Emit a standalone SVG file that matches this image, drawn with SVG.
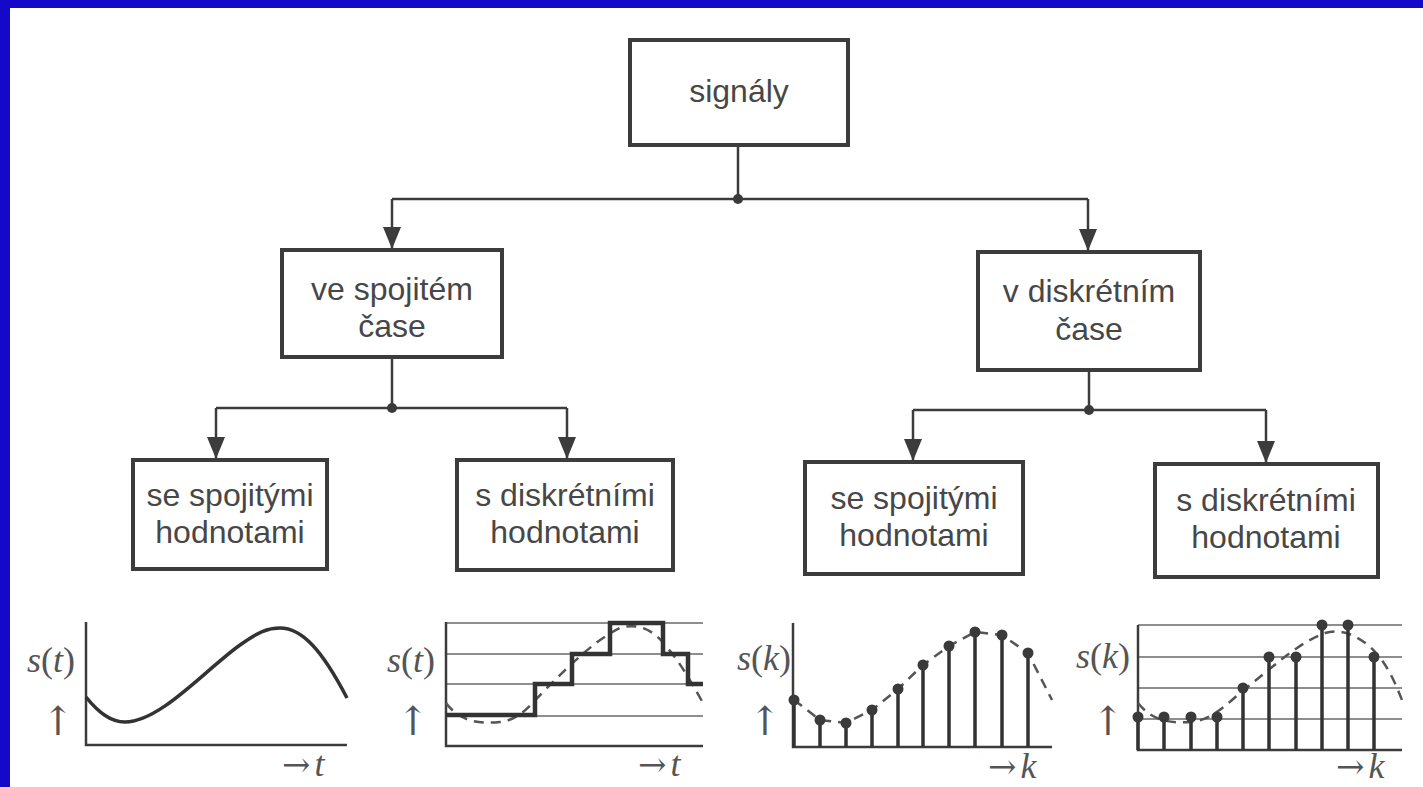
<svg xmlns="http://www.w3.org/2000/svg" width="1423" height="787" viewBox="0 0 1423 787">
<style>
.box{fill:#ffffff;stroke:#3c3c3c;stroke-width:4}
.lbl{font-family:"Liberation Sans",Arial,sans-serif;font-size:32px;fill:#474747;text-anchor:middle}
.con{fill:none;stroke:#3c3c3c;stroke-width:2.5}
.ax{fill:none;stroke:#3c3c3c;stroke-width:2.5}
.grid{fill:none;stroke:#6a6a6a;stroke-width:1.6}
.sig{fill:none;stroke:#333;stroke-width:3.5}
.stair{fill:none;stroke:#333;stroke-width:4.5}
.dash{fill:none;stroke:#555;stroke-width:2.5;stroke-dasharray:10 7}
.stem{stroke:#333;stroke-width:3.5}
.dot{fill:#3a3a3a}
.math{font-family:"Liberation Serif","Times New Roman",serif;font-size:36px;fill:#555}
.up{font-family:"DejaVu Serif","DejaVu Sans",serif;font-size:40px;fill:#555;text-anchor:middle}
.rt{font-family:"DejaVu Serif","DejaVu Sans",serif;font-size:34px;fill:#555}
.var{font-family:"Liberation Serif","Times New Roman",serif;font-style:italic;font-size:36px}
</style>
<defs>
<marker id="ah" markerWidth="18" markerHeight="24" refX="9" refY="22" orient="0" markerUnits="userSpaceOnUse">
<path d="M0,0 L18,0 L9,22 Z" fill="#3c3c3c"/>
</marker>
</defs>
<rect x="0" y="0" width="1423" height="787" fill="#ffffff"/>
<rect x="0" y="0" width="1423" height="8" fill="#1409c8"/>
<rect x="0" y="0" width="10" height="787" fill="#1409c8"/>

<g id="connectors">
<path class="con" d="M738,145 V199"/>
<path class="con" d="M392,199 H1088"/>
<path class="con" d="M392,199 V249" marker-end="url(#ah)"/>
<path class="con" d="M1088,199 V251" marker-end="url(#ah)"/>
<circle class="dot" cx="738" cy="199" r="5"/>
<path class="con" d="M392,357 V408"/>
<path class="con" d="M216,408 H567"/>
<path class="con" d="M216,408 V459" marker-end="url(#ah)"/>
<path class="con" d="M567,408 V459" marker-end="url(#ah)"/>
<circle class="dot" cx="392" cy="408" r="5"/>
<path class="con" d="M1089,370 V410"/>
<path class="con" d="M913,410 H1266"/>
<path class="con" d="M913,410 V461" marker-end="url(#ah)"/>
<path class="con" d="M1266,410 V463" marker-end="url(#ah)"/>
<circle class="dot" cx="1089" cy="410" r="5"/>
</g>

<g id="signaly">
<rect class="box" x="630" y="40" width="218" height="105"/>
<text class="lbl" x="739" y="102">signály</text>
</g>
<g id="spojity-cas">
<rect class="box" x="282" y="250" width="220" height="107"/>
<text class="lbl" x="392" y="300">ve spojitém</text>
<text class="lbl" x="392" y="337">čase</text>
</g>
<g id="diskretni-cas">
<rect class="box" x="978" y="252" width="222" height="118"/>
<text class="lbl" x="1089" y="302">v diskrétním</text>
<text class="lbl" x="1089" y="340">čase</text>
</g>
<g id="sc-sh">
<rect class="box" x="133" y="460" width="194" height="109"/>
<text class="lbl" x="230" y="506">se spojitými</text>
<text class="lbl" x="230" y="543">hodnotami</text>
</g>
<g id="sc-dh">
<rect class="box" x="457" y="460" width="216" height="110"/>
<text class="lbl" x="565" y="506">s diskrétními</text>
<text class="lbl" x="565" y="543">hodnotami</text>
</g>
<g id="dc-sh">
<rect class="box" x="805" y="462" width="218" height="112"/>
<text class="lbl" x="914" y="509">se spojitými</text>
<text class="lbl" x="914" y="546">hodnotami</text>
</g>
<g id="dc-dh">
<rect class="box" x="1155" y="464" width="223" height="113"/>
<text class="lbl" x="1266" y="511">s diskrétními</text>
<text class="lbl" x="1266" y="548">hodnotami</text>
</g>

<g id="plot1">
<path class="ax" d="M86,622 V745 H347"/>
<path class="sig" d="M86,697 C98,712 110,722 125,722 C160,722 205,670 240,645 C258,632 268,628 280,628 C302,628 322,650 347,698"/>
<text class="math" x="27" y="672"><tspan font-style="italic">s</tspan>(<tspan font-style="italic">t</tspan>)</text>
<text class="up" x="58" y="735">↑</text>
<text class="rt" x="282" y="776">→<tspan class="var" dx="4">t</tspan></text>
</g>

<g id="plot2">
<path class="grid" d="M446,623 H703 M446,654 H703 M446,684 H703 M446,716 H703"/>
<path class="ax" d="M446,622 V746 H703"/>
<path class="dash" d="M446,703 C460,722 480,724 500,722 C520,720 530,705 545,690 C570,665 595,640 620,628 C640,622 655,632 665,645 C680,662 690,680 703,703"/>
<path class="stair" d="M446,715 H535 V684 H572 V654 H610 V623 H663 V654 H688 V684 H703"/>
<text class="math" x="387" y="672"><tspan font-style="italic">s</tspan>(<tspan font-style="italic">t</tspan>)</text>
<text class="up" x="413" y="735">↑</text>
<text class="rt" x="638" y="776">→<tspan class="var" dx="4">t</tspan></text>
</g>

<g id="plot3">
<path class="ax" d="M793,623 V747 H1052"/>
<path class="dash" d="M794,700 L820,720 L846,723 L872,710 L898,689 L923,665 L949,646 L975,632 L1002,635 L1028,653 L1052,700"/>
<path class="stem" d="M794,747 V700 M820,747 V720 M846,747 V723 M872,747 V710 M898,747 V689 M923,747 V665 M949,747 V646 M975,747 V632 M1002,747 V635 M1028,747 V653"/>
<g class="dot">
<circle cx="794" cy="700" r="5.5"/><circle cx="820" cy="720" r="5.5"/><circle cx="846" cy="723" r="5.5"/><circle cx="872" cy="710" r="5.5"/><circle cx="898" cy="689" r="5.5"/><circle cx="923" cy="665" r="5.5"/><circle cx="949" cy="646" r="5.5"/><circle cx="975" cy="632" r="5.5"/><circle cx="1002" cy="635" r="5.5"/><circle cx="1028" cy="653" r="5.5"/>
</g>
<text class="math" x="737" y="670"><tspan font-style="italic">s</tspan>(<tspan font-style="italic">k</tspan>)</text>
<text class="up" x="765" y="735">↑</text>
<text class="rt" x="988" y="778">→<tspan class="var" dx="4">k</tspan></text>
</g>

<g id="plot4">
<path class="grid" d="M1138,625 H1402 M1138,657 H1402 M1138,688 H1402 M1138,719 H1402"/>
<path class="ax" d="M1138,625 V750 H1402"/>
<path class="dash" d="M1138,703 C1150,718 1165,724 1190,722 C1215,720 1230,700 1250,685 C1275,665 1300,642 1325,633 C1345,627 1365,640 1378,655 C1390,670 1396,685 1402,700"/>
<path class="stem" d="M1138,750 V717 M1164,750 V717 M1191,750 V717 M1217,750 V717 M1243,750 V688 M1269,750 V657 M1296,750 V657 M1322,750 V625 M1348,750 V625 M1374,750 V657"/>
<g class="dot">
<circle cx="1138" cy="717" r="5.5"/><circle cx="1164" cy="717" r="5.5"/><circle cx="1191" cy="717" r="5.5"/><circle cx="1217" cy="717" r="5.5"/><circle cx="1243" cy="688" r="5.5"/><circle cx="1269" cy="657" r="5.5"/><circle cx="1296" cy="657" r="5.5"/><circle cx="1322" cy="625" r="5.5"/><circle cx="1348" cy="625" r="5.5"/><circle cx="1374" cy="657" r="5.5"/>
</g>
<text class="math" x="1076" y="668"><tspan font-style="italic">s</tspan>(<tspan font-style="italic">k</tspan>)</text>
<text class="up" x="1108" y="735">↑</text>
<text class="rt" x="1336" y="778">→<tspan class="var" dx="4">k</tspan></text>
</g>
</svg>
